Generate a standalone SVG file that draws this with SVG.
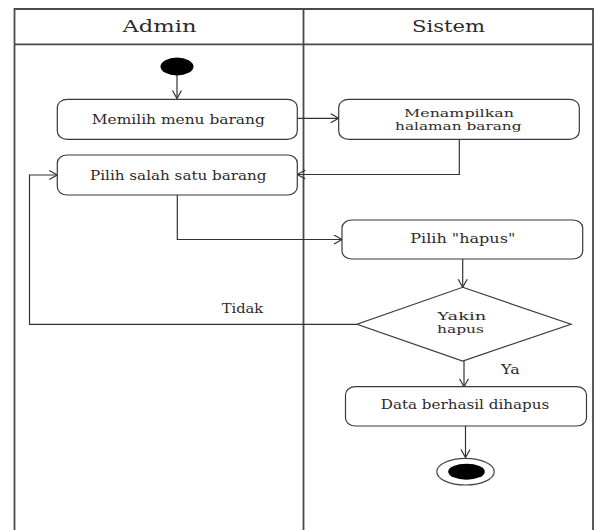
<svg xmlns="http://www.w3.org/2000/svg" width="597" height="530" viewBox="0 0 597 530">
<defs>
<style>
.lane{fill:none;stroke:#4a4a4a;stroke-width:1.8}
.box{fill:#fff;stroke:#3a3a3a;stroke-width:1.2}
.edge{fill:none;stroke:#333;stroke-width:1.2}
text{font-family:'DejaVu Serif','Liberation Serif','Noto Serif',serif;fill:#2e2a2a;text-anchor:middle}
.t{font-size:12.5px}
.s{font-size:11px}
.h{font-size:16px}
</style>
<marker id="arr" markerUnits="userSpaceOnUse" markerWidth="12" markerHeight="12" refX="9" refY="5" orient="auto">
<path d="M1,0.5 L9,5 L1,9.5" fill="none" stroke="#333" stroke-width="1.2"/>
</marker>
</defs>
<rect width="597" height="530" fill="#fff"/>
<g id="swimlanes">
<path class="lane" d="M14.5,531 V9 H593 V531 M14.5,44.3 H593 M303.5,9 V531"/>
<text class="h" x="159.5" y="32.3" textLength="74" lengthAdjust="spacingAndGlyphs">Admin</text>
<text class="h" x="448.5" y="32.3" textLength="73" lengthAdjust="spacingAndGlyphs">Sistem</text>
</g>
<g id="connectors">
<path class="edge" d="M177,75 V98.5" marker-end="url(#arr)"/>
<path class="edge" d="M297.3,118.3 H338.7" marker-end="url(#arr)"/>
<path class="edge" d="M459.3,139.3 V174.5 H297.3" marker-end="url(#arr)"/>
<path class="edge" d="M177.3,195 V239.5 H342" marker-end="url(#arr)"/>
<path class="edge" d="M462.7,259 V287.3" marker-end="url(#arr)"/>
<path class="edge" d="M357,324.3 H29.5 V175 H57.3" marker-end="url(#arr)"/>
<path class="edge" d="M464,361 V386.7" marker-end="url(#arr)"/>
<path class="edge" d="M465.5,426 V457.5" marker-end="url(#arr)"/>
<text class="t" x="242.5" y="312.7" textLength="41.5" lengthAdjust="spacingAndGlyphs">Tidak</text>
<text class="t" x="510.3" y="374" textLength="18.7" lengthAdjust="spacingAndGlyphs">Ya</text>
</g>
<g id="start">
<ellipse cx="177" cy="66.5" rx="16.5" ry="9" fill="#000"/>
</g>
<g id="memilih-menu">
<rect class="box" x="57.3" y="99.3" width="240" height="40" rx="10" ry="8"/>
<text class="t" x="178.3" y="123.5" textLength="173" lengthAdjust="spacingAndGlyphs">Memilih menu barang</text>
</g>
<g id="menampilkan">
<rect class="box" x="338.7" y="99.3" width="240.6" height="40" rx="10" ry="8"/>
<text class="s" x="459" y="117.2" textLength="110" lengthAdjust="spacingAndGlyphs">Menampilkan</text>
<text class="s" x="458.3" y="130" textLength="126.5" lengthAdjust="spacingAndGlyphs">halaman barang</text>
</g>
<g id="pilih-barang">
<rect class="box" x="57.3" y="155" width="240" height="40" rx="10" ry="8"/>
<text class="t" x="178.3" y="180" textLength="176.5" lengthAdjust="spacingAndGlyphs">Pilih salah satu barang</text>
</g>
<g id="pilih-hapus">
<rect class="box" x="342" y="220" width="240.7" height="39" rx="10" ry="8"/>
<text class="t" x="462.8" y="243.3" textLength="105" lengthAdjust="spacingAndGlyphs">Pilih "hapus"</text>
</g>
<g id="yakin-hapus">
<polygon class="box" points="462.7,287.3 571,324.3 462.7,361 357,324.3"/>
<text class="s" x="461.7" y="319.5" textLength="49" lengthAdjust="spacingAndGlyphs">Yakin</text>
<text class="s" x="460.5" y="333.2" textLength="47" lengthAdjust="spacingAndGlyphs">hapus</text>
</g>
<g id="data-dihapus">
<rect class="box" x="345.5" y="386.7" width="241" height="39.3" rx="10" ry="8"/>
<text class="t" x="465" y="409.3" textLength="168.5" lengthAdjust="spacingAndGlyphs">Data berhasil dihapus</text>
</g>
<g id="end">
<ellipse cx="465.5" cy="471.7" rx="28.7" ry="13.3" fill="#fff" stroke="#444" stroke-width="1.2"/>
<ellipse cx="466.5" cy="471.7" rx="18.3" ry="8" fill="#000"/>
</g>
</svg>
